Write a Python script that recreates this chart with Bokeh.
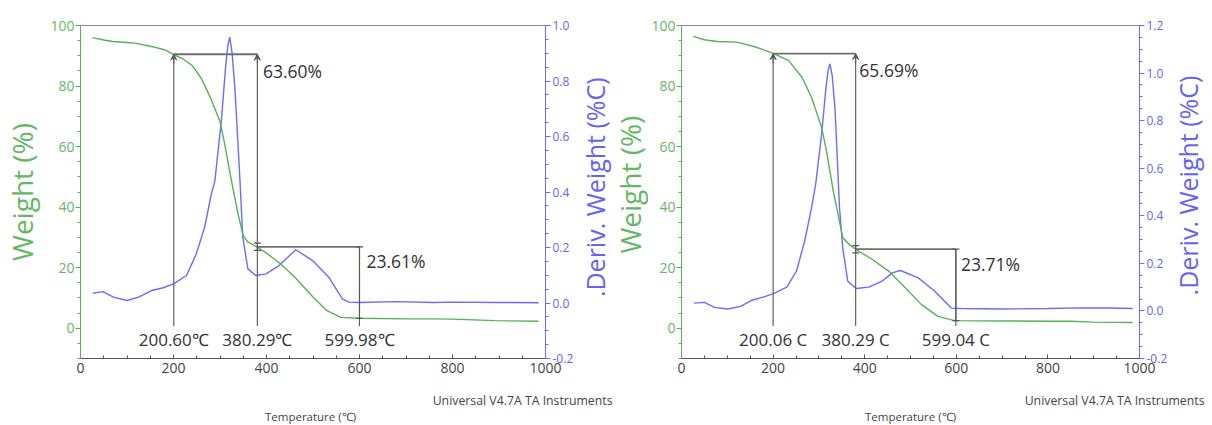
import numpy as np
from bokeh.plotting import figure
from bokeh.models import (Range1d, LinearAxis, FixedTicker, SingleIntervalTicker,
                          Label, Arrow, VeeHead, TeeHead, NumeralTickFormatter)
from bokeh.core.properties import value
from bokeh.layouts import row, column
from bokeh.embed import file_html
from bokeh.resources import INLINE

# ---------------- data ----------------
# left sample
left_w_temp = [26, 50, 70, 100, 120, 155, 180, 200, 220, 240, 260, 280, 300, 310, 320, 330, 340,
               350, 360, 380, 400, 430, 460, 500, 530, 560, 600, 700, 760, 800, 890, 985]
left_w = [96.0, 95.2, 94.7, 94.4, 94.1, 93.0, 92.0, 90.5, 89.0, 86.8, 82.5, 76.0, 68.3, 61.0, 52.5,
          44.5, 37.0, 30.5, 28.5, 26.8, 24.8, 21.3, 17.0, 10.3, 5.8, 3.6, 3.3, 3.1, 3.1, 3.0, 2.5, 2.3]
left_d_temp = [27, 48, 71, 100, 125, 153, 178, 200, 228, 249, 267, 281, 289, 303, 312, 317, 321,
               326, 332, 343, 349, 360, 377, 399, 427, 463, 499, 534, 563, 577, 600, 680, 760, 800,
               900, 985]
left_d = [0.035, 0.041, 0.021, 0.009, 0.021, 0.045, 0.055, 0.069, 0.099, 0.177, 0.273, 0.39, 0.44,
          0.658, 0.85, 0.93, 0.958, 0.90, 0.778, 0.44, 0.237, 0.123, 0.099, 0.105, 0.135, 0.192,
          0.153, 0.093, 0.015, 0.003, 0.002, 0.005, 0.002, 0.003, 0.002, 0.001]
left_steps_t = [200.60, 380.29, 599.98]
left_steps_w = [90.5, 26.9, 3.3]
left_step_labels = ["200.60℃", "380.29℃", "599.98℃"]
left_loss_labels = ["63.60%", "23.61%"]

# right sample
right_w_temp = [26, 50, 78, 121, 164, 203, 234, 263, 284, 306, 316, 325, 333, 340, 352, 365, 381,
                417, 453, 489, 524, 560, 596, 700, 800, 850, 900, 985]
right_w = [96.4, 95.3, 94.7, 94.5, 92.8, 90.6, 88.4, 82.9, 76.2, 66.3, 59.0, 51.0, 44.0, 39.0, 30.0,
           27.8, 26.0, 22.7, 18.8, 13.3, 7.8, 3.9, 2.5, 2.4, 2.3, 2.3, 2.0, 1.9]
right_d_temp = [27, 50, 72, 101, 129, 154, 180, 201, 230, 251, 269, 284, 293, 306, 315, 320, 324,
                329, 335, 345, 352, 363, 381, 409, 438, 460, 478, 517, 553, 575, 589, 611, 700, 800,
                870, 930, 985]
right_d = [0.033, 0.036, 0.015, 0.008, 0.019, 0.045, 0.059, 0.073, 0.10, 0.167, 0.294, 0.434, 0.533,
           0.744, 0.93, 1.01, 1.039, 0.99, 0.856, 0.434, 0.265, 0.125, 0.094, 0.10, 0.125, 0.16,
           0.17, 0.139, 0.083, 0.04, 0.012, 0.01, 0.008, 0.01, 0.013, 0.012, 0.01]
right_steps_t = [200.06, 380.29, 599.04]
right_steps_w = [90.7, 26.1, 2.5]
right_step_labels = ["200.06 C", "380.29 C", "599.04 C"]
right_loss_labels = ["65.69%", "23.71%"]

x_label = "Temperature (℃)"
w_label = "Weight (%)"
d_label = ".Deriv. Weight (%C)"
credit = "Universal V4.7A TA Instruments"

# ---------------- style ----------------
GREEN = "#55b255"
GREEN_TXT = "#63b863"
BLUE = "#6b6bff"
BLUE_TXT = "#6464f0"
ANN = "#555555"
TXT = "#333333"
FONT = "Open Sans"
TOP_H = 385


def bare_figure(width, height):
    f = figure(width=width, height=height, x_range=Range1d(0, width), y_range=Range1d(0, height),
               output_backend="svg", toolbar_location=None, min_border=0,
               x_axis_location=None, y_axis_location=None)
    f.outline_line_color = None
    f.grid.visible = False
    f.xgrid.visible = False
    f.ygrid.visible = False
    return f


def make_panel(wt, w, dt, d, steps_t, steps_w, step_labels, loss_labels, d_max,
               b_left, frame_w, b_right, with_wlabel, loss_off):
    width = b_left + frame_w + b_right
    p = figure(width=width, height=TOP_H, x_range=Range1d(0, 1000), y_range=Range1d(-10, 100),
               output_backend="svg", toolbar_location=None,
               min_border_left=b_left, min_border_right=b_right,
               min_border_top=25, min_border_bottom=27)
    p.extra_y_ranges = {"d": Range1d(-0.2, d_max)}
    p.outline_line_color = None
    p.xgrid.grid_line_color = None
    p.ygrid.grid_line_color = None

    # bottom axis
    xa = p.xaxis[0]
    xa.ticker = SingleIntervalTicker(interval=200, num_minor_ticks=4)
    xa.axis_line_color = "#555555"
    xa.major_tick_line_color = "#555555"
    xa.minor_tick_line_color = "#555555"
    xa.major_tick_in = 4
    xa.major_tick_out = 0
    xa.minor_tick_in = 3
    xa.minor_tick_out = 0
    xa.major_label_text_font = FONT
    xa.major_label_text_font_size = "14px"
    xa.major_label_text_color = "#444444"
    xa.major_label_standoff = 4

    # left axis
    ya = p.yaxis[0]
    ya.ticker = SingleIntervalTicker(interval=20, num_minor_ticks=4)
    ya.axis_line_color = GREEN
    ya.major_tick_line_color = GREEN
    ya.minor_tick_line_color = GREEN
    ya.major_tick_in = 0
    ya.major_tick_out = 5
    ya.minor_tick_in = 0
    ya.minor_tick_out = 3
    ya.major_label_text_font = FONT
    ya.major_label_text_font_size = "14px"
    ya.major_label_text_color = GREEN_TXT
    ya.major_label_standoff = 1
    if with_wlabel:
        ya.axis_label = w_label
        ya.axis_label_text_font = FONT
        ya.axis_label_text_font_size = "28px"
        ya.axis_label_text_font_style = "normal"
        ya.axis_label_text_color = GREEN_TXT
        ya.axis_label_standoff = 6

    # right axis
    ra = LinearAxis(y_range_name="d",
                    ticker=SingleIntervalTicker(interval=0.2, num_minor_ticks=4),
                    formatter=NumeralTickFormatter(format="0.0"))
    ra.axis_line_color = BLUE
    ra.major_tick_line_color = BLUE
    ra.minor_tick_line_color = BLUE
    ra.major_tick_in = 0
    ra.major_tick_out = 5
    ra.minor_tick_in = 0
    ra.minor_tick_out = 3
    ra.major_label_text_font = FONT
    ra.major_label_text_font_size = "12px"
    ra.major_label_text_color = BLUE_TXT
    ra.major_label_standoff = 2
    p.add_layout(ra, "right")

    # top frame line
    ta = LinearAxis(ticker=FixedTicker(ticks=[]), axis_line_color="#888888")
    p.add_layout(ta, "above")

    # curves
    p.line(dt, d, y_range_name="d", line_color=BLUE, line_width=1.4)
    p.line(wt, w, line_color=GREEN, line_width=1.4)

    # step annotations
    t0, t1, t2 = steps_t
    w0, w1, w2 = steps_w
    base = 0.7
    p.segment(x0=[t0, t1, t2], y0=[base, base, base], x1=[t0, t1, t2], y1=[w0, w0, w1],
              line_color=ANN, line_width=1.1)
    p.segment(x0=[t0, t1], y0=[w0, w1], x1=[t1, t2], y1=[w0, w1],
              line_color="#707070", line_width=1.8)
    for t in (t0, t1):
        p.add_layout(Arrow(end=VeeHead(size=6, line_color=ANN, fill_color=ANN, line_width=1),
                           x_start=t, y_start=w0 - 3, x_end=t, y_end=w0,
                           line_color=ANN, line_width=1))
    p.add_layout(Arrow(start=TeeHead(size=7, line_color=ANN, line_width=1.2),
                       end=TeeHead(size=7, line_color=ANN, line_width=1.2),
                       x_start=t2, y_start=w1, x_end=t2, y_end=w2,
                       line_color=ANN, line_width=1.1))
    p.add_layout(Arrow(start=TeeHead(size=7, line_color=ANN, line_width=1.2),
                       end=TeeHead(size=7, line_color=ANN, line_width=1.2),
                       x_start=t1, y_start=w1 - 1.2, x_end=t1, y_end=w1 + 1.2,
                       line_color=ANN, line_width=1.1))

    for t, lab in zip(steps_t, step_labels):
        p.add_layout(Label(x=t, y=-3.6, text=lab, text_align="center", text_baseline="middle",
                           text_font=FONT, text_font_size="17px", text_color=TXT))
    p.add_layout(Label(x=t1 + loss_off, y=w0 - 5.5, text=loss_labels[0], text_align="left",
                       text_baseline="middle", text_font=FONT, text_font_size="17.5px",
                       text_color=TXT))
    p.add_layout(Label(x=t2 + loss_off + 3, y=w1 - 4.8, text=loss_labels[1], text_align="left",
                       text_baseline="middle", text_font=FONT, text_font_size="17.5px",
                       text_color=TXT))
    return p


def add_vtitle(f, text, cx, cy, color, size):
    """Rotated axis title (reads bottom-to-top) inside a bare strip."""
    h = f.height
    f.text(x=[cx], y=[h - cy], text=[text], angle=np.pi / 2,
           text_align="center", text_baseline="middle", text_font=value(FONT),
           text_font_size=size, text_color=color)


# left panel: 0..576 (frame 78..546)
p1 = make_panel(left_w_temp, left_w, left_d_temp, left_d, left_steps_t, left_steps_w,
                left_step_labels, left_loss_labels, 1.0,
                78, 468, 30, True, 12)
# strip between panels: 576..648 (deriv title of left panel + weight title of right panel)
mid = bare_figure(72, TOP_H)
add_vtitle(mid, d_label, 18, 187, BLUE_TXT, "25px")
add_vtitle(mid, w_label, 53, 184, GREEN_TXT, "28px")
# right panel: 648..1170 (frame 678..1142)
p2 = make_panel(right_w_temp, right_w, right_d_temp, right_d, right_steps_t, right_steps_w,
                right_step_labels, right_loss_labels, 1.2000001,
                30, 464, 28, False, 8)
# right strip: 1170..1210
lab2 = bare_figure(40, TOP_H)
add_vtitle(lab2, d_label, 17, 185, BLUE_TXT, "25px")

# footer strip with the credit line and the x titles
FOOT_W, FOOT_H = 1210, 39
foot = bare_figure(FOOT_W, FOOT_H)
foot.text(x=[612, 1204], y=[FOOT_H - 15, FOOT_H - 15], text=[credit, credit],
          text_align="right", text_baseline="middle", text_font=value(FONT),
          text_font_size="12.3px", text_color="#444444")
foot.text(x=[310, 910], y=[FOOT_H - 31, FOOT_H - 31], text=[x_label, x_label],
          text_align="center", text_baseline="middle", text_font=value(FONT),
          text_font_size="11.5px", text_color="#444444")

layout = column(row(p1, mid, p2, lab2), foot)
open("out.html", "w").write(file_html(layout, INLINE))
